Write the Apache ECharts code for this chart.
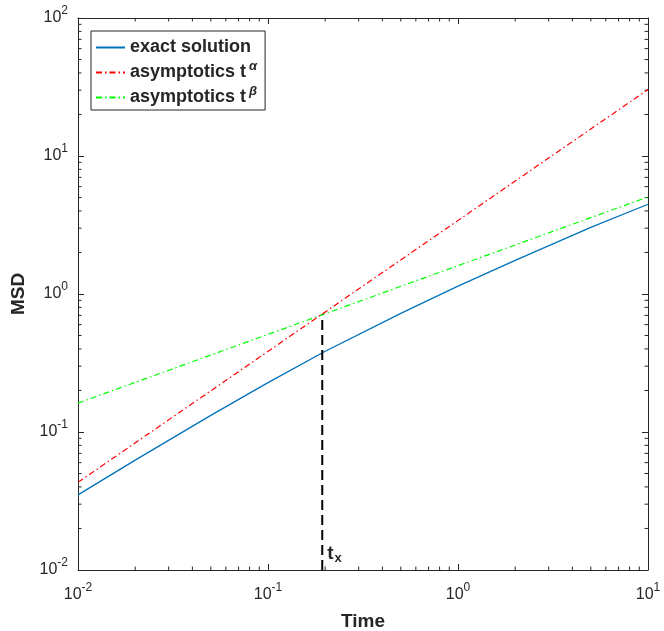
<!DOCTYPE html>
<html>
<head>
<meta charset="utf-8">
<script src="https://cdn.jsdelivr.net/npm/echarts@6/dist/echarts.min.js"></script>
<style>
html,body{margin:0;padding:0;background:#fff;}
#c{width:664px;height:631px;}
</style>
</head>
<body>
<div id="c"></div>
<script>
// ---- data ----
const timeExact = [0.01, 0.02, 0.05, 0.1, 0.2, 0.5, 1, 2, 5, 10];
const msdExact  = [0.0350, 0.0625, 0.132, 0.228, 0.385, 0.724, 1.14, 1.75, 3.04, 4.47];
const timeAlpha = [0.01, 10];
const msdAlpha  = [0.0432, 30.3];
const timeBeta  = [0.01, 10];
const msdBeta   = [0.162, 5.05];
const tx = 0.193;
const txLineMsd = [0.01, 0.71];
const xTickValues = [0.01, 0.1, 1, 10];
const yTickValues = [0.01, 0.1, 1, 10, 100];
const seriesNames = ['exact solution', 'asymptotics tα', 'asymptotics tβ'];

// minor tick positions (2..9 x 10^k)
function minorTicks(lo, hi) {
  const out = [];
  for (let e = lo; e < hi; e++) for (let m = 2; m <= 9; m++) out.push(m * Math.pow(10, e));
  return out;
}
const xMinor = minorTicks(-2, 1);
const yMinor = minorTicks(-2, 2);

const FONT = "'Liberation Sans', Arial, Helvetica, sans-serif";
const AX = '#262626';
const zip = (a, b) => a.map((v, i) => [v, b[i]]);

function powLabel(v) {
  const e = Math.round(Math.log10(v));
  return '{m|10}{s|' + e + '}';
}
const tickRich = {
  m: {fontSize: 16, fontFamily: FONT, color: AX, lineHeight: 26},
  s: {fontSize: 12, fontFamily: FONT, color: AX, padding: [0, 0, 14, 0]}
};

const chart = echarts.init(document.getElementById('c'), null, {renderer: 'canvas'});

const xMin = xTickValues[0], xMax = xTickValues[xTickValues.length - 1];
const yMin = yTickValues[0], yMax = yTickValues[yTickValues.length - 1];

function minorRender(isX) {
  return function (params, api) {
    const v = api.value(isX ? 0 : 1);
    const L = 3.5;
    if (isX) {
      const b = api.coord([v, yMin]);
      const t = api.coord([v, yMax]);
      return {type: 'group', children: [
        {type: 'line', shape: {x1: b[0], y1: b[1], x2: b[0], y2: b[1] - L}, style: {stroke: AX, lineWidth: 1}},
        {type: 'line', shape: {x1: t[0], y1: t[1], x2: t[0], y2: t[1] + L}, style: {stroke: AX, lineWidth: 1}}
      ]};
    } else {
      const l = api.coord([xMin, v]);
      const r = api.coord([xMax, v]);
      return {type: 'group', children: [
        {type: 'line', shape: {x1: l[0], y1: l[1], x2: l[0] + L, y2: l[1]}, style: {stroke: AX, lineWidth: 1}},
        {type: 'line', shape: {x1: r[0], y1: r[1], x2: r[0] - L, y2: r[1]}, style: {stroke: AX, lineWidth: 1}}
      ]};
    }
  };
}

const baseX = {
  type: 'log', logBase: 10, min: xMin, max: xMax,
  axisLine: {show: true, lineStyle: {color: AX, width: 1}},
  axisTick: {show: true, inside: true, length: 6, lineStyle: {color: AX}},
  splitLine: {show: false}
};
const baseY = {
  type: 'log', logBase: 10, min: yMin, max: yMax,
  axisLine: {show: true, lineStyle: {color: AX, width: 1}},
  axisTick: {show: true, inside: true, length: 6, lineStyle: {color: AX}},
  splitLine: {show: false}
};

chart.setOption({
  animation: false,
  backgroundColor: '#fff',
  grid: {left: 78, right: 16, top: 18, bottom: 61, containLabel: false, outerBoundsMode: 'none'},
  xAxis: [
    Object.assign({}, baseX, {
      position: 'bottom',
      name: 'Time', nameLocation: 'middle', nameGap: 42,
      nameTextStyle: {fontFamily: FONT, fontSize: 19, fontWeight: 'bold', color: AX},
      axisLabel: {show: true, margin: 12, formatter: powLabel, rich: tickRich}
    }),
    Object.assign({}, baseX, {position: 'top', axisLabel: {show: false}})
  ],
  yAxis: [
    Object.assign({}, baseY, {
      position: 'left',
      name: 'MSD', nameLocation: 'middle', nameGap: 43,
      nameTextStyle: {fontFamily: FONT, fontSize: 19, fontWeight: 'bold', color: AX},
      axisLabel: {show: true, margin: 10, formatter: powLabel, rich: tickRich}
    }),
    Object.assign({}, baseY, {position: 'right', axisLabel: {show: false}})
  ],
  legend: {
    data: seriesNames,
    orient: 'vertical',
    left: 91, top: 31,
    padding: [4, 8, 0, 4],
    itemGap: 0,
    itemWidth: 29, itemHeight: 12,
    backgroundColor: '#fff',
    borderColor: AX, borderWidth: 1, borderRadius: 0,
    itemStyle: {opacity: 0},
    lineStyle: {opacity: 1},
    formatter: function (name) {
      if (name === seriesNames[1]) return '{b|asymptotics t}{s|α}';
      if (name === seriesNames[2]) return '{b|asymptotics t}{s|β}';
      return '{b|' + name + '}';
    },
    textStyle: {
      padding: [0, 0, 0, 0],
      lineHeight: 25,
      rich: {
        b: {fontFamily: FONT, fontSize: 18, fontWeight: 'bold', color: AX, lineHeight: 25},
        s: {fontFamily: FONT, fontSize: 13, fontWeight: 'bold', fontStyle: 'italic', color: AX, padding: [0, 0, 12, 3]}
      }
    }
  },
  series: [
    {
      name: seriesNames[0], type: 'line', data: zip(timeExact, msdExact),
      showSymbol: false, symbol: 'none', smooth: false,
      lineStyle: {color: '#0072BD', width: 1.3, type: 'solid'},
      itemStyle: {color: '#0072BD'}, z: 5
    },
    {
      name: seriesNames[1], type: 'line', data: zip(timeAlpha, msdAlpha),
      showSymbol: false, symbol: 'none',
      lineStyle: {color: '#FF0000', width: 1.2, type: [6, 3, 1.5, 3]},
      itemStyle: {color: '#FF0000'}, z: 4
    },
    {
      name: seriesNames[2], type: 'line', data: zip(timeBeta, msdBeta),
      showSymbol: false, symbol: 'none',
      lineStyle: {color: '#00FF00', width: 1.2, type: [6, 3, 1.5, 3]},
      itemStyle: {color: '#00FF00'}, z: 3
    },
    {
      name: 'tx', type: 'line',
      data: [
        {value: [tx, txLineMsd[0]], label: {show: true, position: 'insideBottomLeft'}},
        {value: [tx, txLineMsd[1]]}
      ],
      symbol: 'circle', symbolSize: 0, showSymbol: true,
      lineStyle: {color: '#000', width: 2, type: [10, 5]},
      itemStyle: {color: '#000'},
      label: {
        show: false,
        position: [4, -30],
        formatter: '{t|t}{x|x}',
        rich: {
          t: {fontFamily: FONT, fontSize: 19, fontWeight: 'bold', color: AX, lineHeight: 22},
          x: {fontFamily: FONT, fontSize: 13, fontWeight: 'bold', color: AX, padding: [10, 0, 0, 1]}
        }
      },
      z: 6
    },
    {
      type: 'custom', name: 'xminor', data: xMinor.map(v => [v, 1]),
      renderItem: minorRender(true), clip: false, silent: true, z: 1
    },
    {
      type: 'custom', name: 'yminor', data: yMinor.map(v => [1, v]),
      renderItem: minorRender(false), clip: false, silent: true, z: 1
    }
  ]
});
</script>
</body>
</html>
